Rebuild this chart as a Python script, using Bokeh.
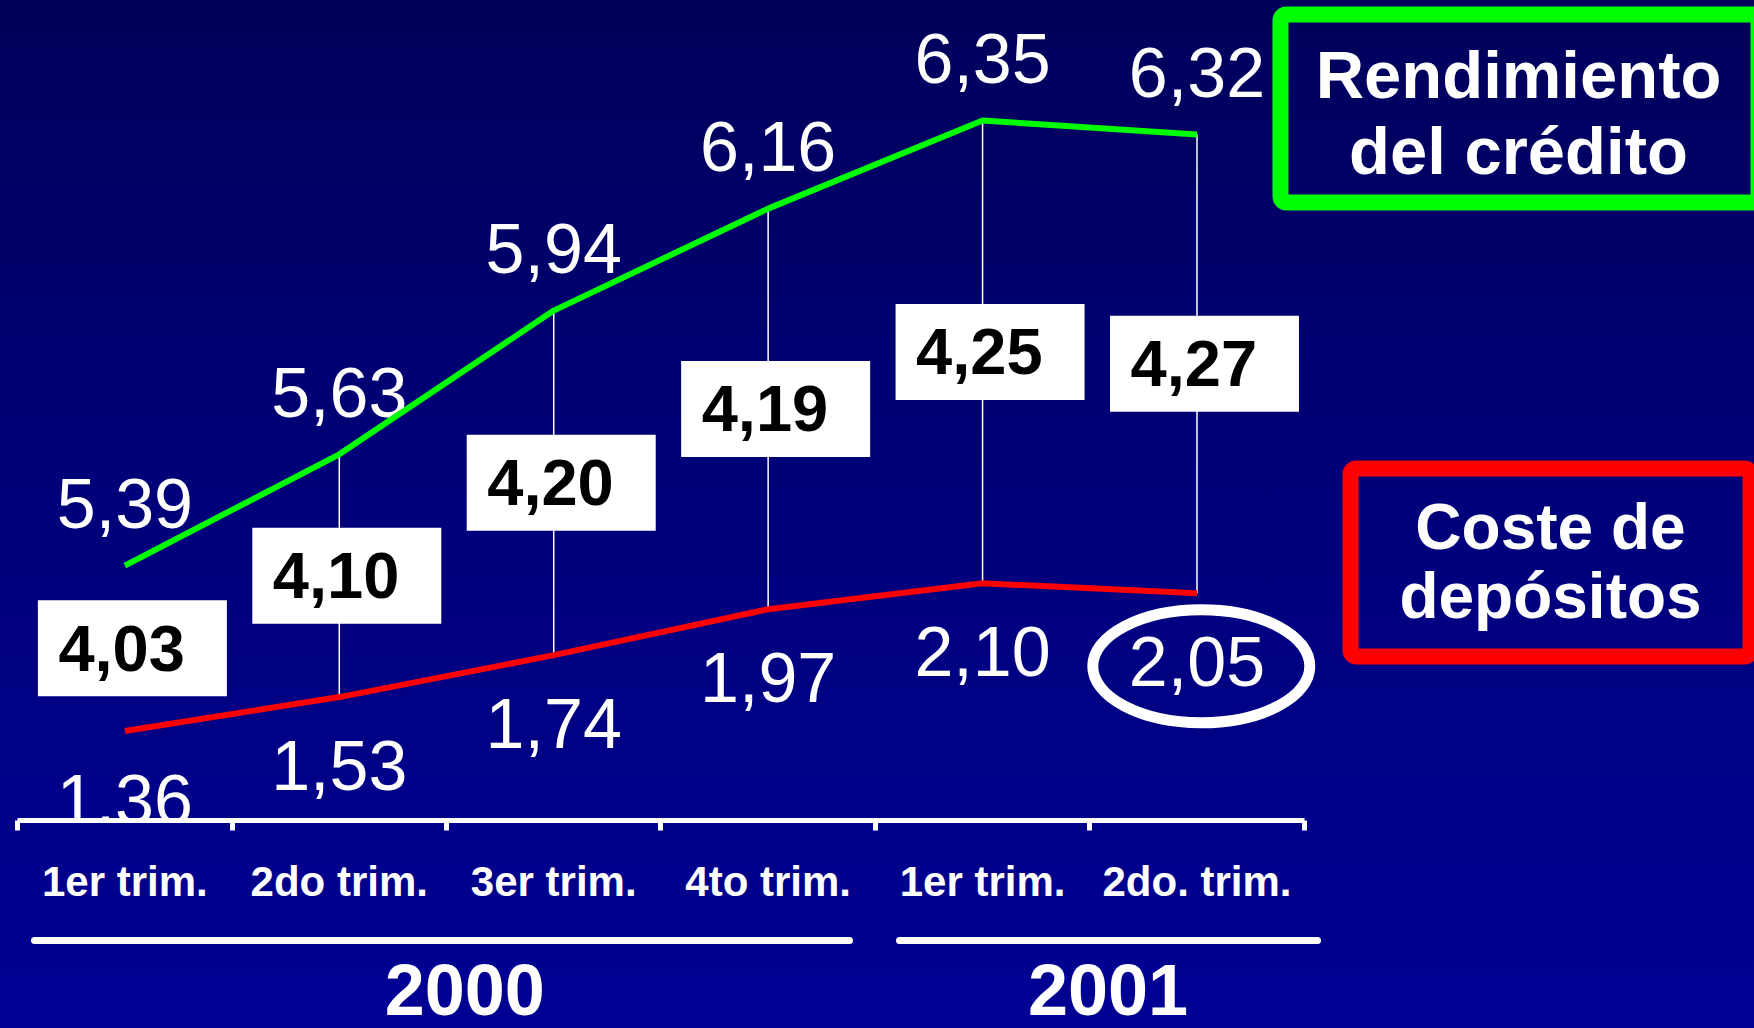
from bokeh.plotting import figure
from bokeh.models import Range1d, LinearAxis, FixedTicker, ColumnDataSource, LabelSet
from bokeh.embed import file_html
from bokeh.resources import INLINE
from bokeh.core.properties import value

# Quarterly figures, 2000 - 2001 (%)
quarters = ["1er trim.", "2do trim.", "3er trim.", "4to trim.", "1er trim.", "2do. trim."]
quarter_year = ["2000", "2000", "2000", "2000", "2001", "2001"]
years = ["2000", "2001"]
rendimiento_credito = [5.39, 5.63, 5.94, 6.16, 6.35, 6.32]
coste_depositos = [1.36, 1.53, 1.74, 1.97, 2.10, 2.05]

# spread between loan yield and deposit cost
margen = [round(g - c, 2) for g, c in zip(rendimiento_credito, coste_depositos)]


def fmt(v):
    return f"{v:.2f}".replace(".", ",")


FONT = "Liberation Sans"
W, H = 1754, 1028
FRAME_H = 820
X0, X1 = -0.08, 8.1
G_LO, G_HI = 4.840, 6.609      # scale of the yield line
R_LO, R_HI = 0.912, 5.018      # scale of the deposit-cost line

PX_X = W / (X1 - X0)
G_PP = (G_HI - G_LO) / FRAME_H
R_PP = (R_HI - R_LO) / FRAME_H


def g_px(v):
    return (G_HI - v) / G_PP


def r_px(v):
    return (R_HI - v) / R_PP


def px_to_g(px):
    return G_HI - px * G_PP


def px_to_x(px):
    return X0 + px / PX_X


xc = [i + 0.5 for i in range(len(quarters))]

p = figure(width=W, height=H, frame_height=FRAME_H, frame_width=W,
           x_range=Range1d(X0, X1), y_range=Range1d(G_LO, G_HI),
           x_axis_location=None, y_axis_location=None,
           output_backend="svg", toolbar_location=None, min_border=0,
           min_border_bottom=H - FRAME_H)
p.extra_y_ranges = {"red": Range1d(R_LO, R_HI), "page": Range1d(FRAME_H, 0)}
p.extra_x_ranges = {"page": Range1d(0, W)}
p.grid.visible = False
p.outline_line_color = None
p.background_fill_alpha = 0
p.border_fill_alpha = 0
p.styles = {"background": "linear-gradient(to bottom, #00005a 0%, #000078 45%, #000094 100%)"}

# drop lines joining the two series
red_in_g = [px_to_g(r_px(c)) for c in coste_depositos]
p.segment(x0=xc[1:], y0=rendimiento_credito[1:], x1=xc[1:], y1=red_in_g[1:],
          line_color="white", line_width=1.5)

# spread boxes half-way between the lines
mid_g = [px_to_g((g_px(g) + r_px(c)) / 2) for g, c in zip(rendimiento_credito, coste_depositos)]
p.rect(x=[x + 0.035 for x in xc], y=mid_g, width=189, height=96,
       width_units="screen", height_units="screen", fill_color="white", line_color=None)
p.text(x=[x - 0.015 for x in xc], y=mid_g, text=[fmt(m) for m in margen],
       text_font=value(FONT), text_font_style="bold", text_font_size="65px",
       text_color="black", text_align="center", text_baseline="middle")

# yield labels above the green line
p.text(x=xc, y=[g + 62 * G_PP for g in rendimiento_credito],
       text=[fmt(g) for g in rendimiento_credito],
       text_font=value(FONT), text_font_size="70px", text_color="white",
       text_align="center", text_baseline="middle")

p.line(xc, rendimiento_credito, line_color="#00ff00", line_width=6)
p.line(xc, coste_depositos, y_range_name="red", line_color="#ff0000", line_width=6)

# deposit-cost labels below the red line
red_src = ColumnDataSource(dict(x=xc, y=[c - 68 * R_PP for c in coste_depositos],
                                text=[fmt(c) for c in coste_depositos]))
p.add_layout(LabelSet(x="x", y="y", text="text", source=red_src, y_range_name="red",
                      text_font=value(FONT), text_font_size="70px", text_color="white",
                      text_align="center", text_baseline="middle"))

# highlight on the latest deposit cost
p.ellipse(x=[xc[-1] + 0.02], y=[coste_depositos[-1] - 73 * R_PP], width=217, height=113,
          width_units="screen", height_units="screen", y_range_name="red",
          fill_color=None, line_color="white", line_width=11)

# series captions
p.quad(left=[1280], right=[1758], top=[14], bottom=[202], x_range_name="page", y_range_name="page",
       fill_color=None, line_color="#00ff00", line_width=16, border_radius=6)
p.text(x=[1518, 1518], y=[74, 150], text=["Rendimiento", "del crédito"],
       x_range_name="page", y_range_name="page",
       text_font=value(FONT), text_font_style="bold", text_font_size="67px",
       text_color="white", text_align="center", text_baseline="alphabetic")
p.quad(left=[1350], right=[1750], top=[468], bottom=[656], x_range_name="page", y_range_name="page",
       fill_color=None, line_color="#ff0000", line_width=16, border_radius=6)
p.text(x=[1550, 1550], y=[526, 595], text=["Coste de", "depósitos"],
       x_range_name="page", y_range_name="page",
       text_font=value(FONT), text_font_style="bold", text_font_size="64px",
       text_color="white", text_align="center", text_baseline="alphabetic")

# quarter axis: ticks on the boundaries, labels in the middle
ax_q = LinearAxis(
    ticker=FixedTicker(ticks=xc, minor_ticks=list(range(len(quarters) + 1))),
    major_label_overrides={x: q for x, q in zip(xc, quarters)},
    bounds=(0, len(quarters)),
    axis_line_color="white", axis_line_width=5,
    major_tick_line_color=None, major_tick_out=10, major_tick_in=0,
    minor_tick_line_color="white", minor_tick_line_width=5, minor_tick_out=10, minor_tick_in=0,
    major_label_standoff=27, major_label_text_font=FONT, major_label_text_font_style="bold",
    major_label_text_font_size="42px", major_label_text_color="white",
    axis_label="\u00a0", axis_label_text_font_size="20px", axis_label_standoff=8,
)
p.add_layout(ax_q, "below")

# year axis: one bracket per year with the year centred beneath
year_pos = []
for y in years:
    cs = [x for x, qy in zip(xc, quarter_year) if qy == y]
    year_pos.append(round(sum(cs) / len(cs) + 0.085, 3))
ax_y = LinearAxis(
    ticker=FixedTicker(ticks=year_pos, minor_ticks=[]),
    major_label_overrides={x: y for x, y in zip(year_pos, years)},
    bounds=(px_to_x(33.5), px_to_x(1316.5)),
    axis_line_color="white", axis_line_width=7, axis_line_cap="round", axis_line_dash="815 50",
    major_tick_line_color=None, major_tick_out=0, major_tick_in=0,
    minor_tick_line_color=None,
    major_label_standoff=24, major_label_text_font=FONT, major_label_text_font_style="bold",
    major_label_text_font_size="72px", major_label_text_color="white",
)
p.add_layout(ax_y, "below")

open("out.html", "w").write(file_html(p, INLINE))
